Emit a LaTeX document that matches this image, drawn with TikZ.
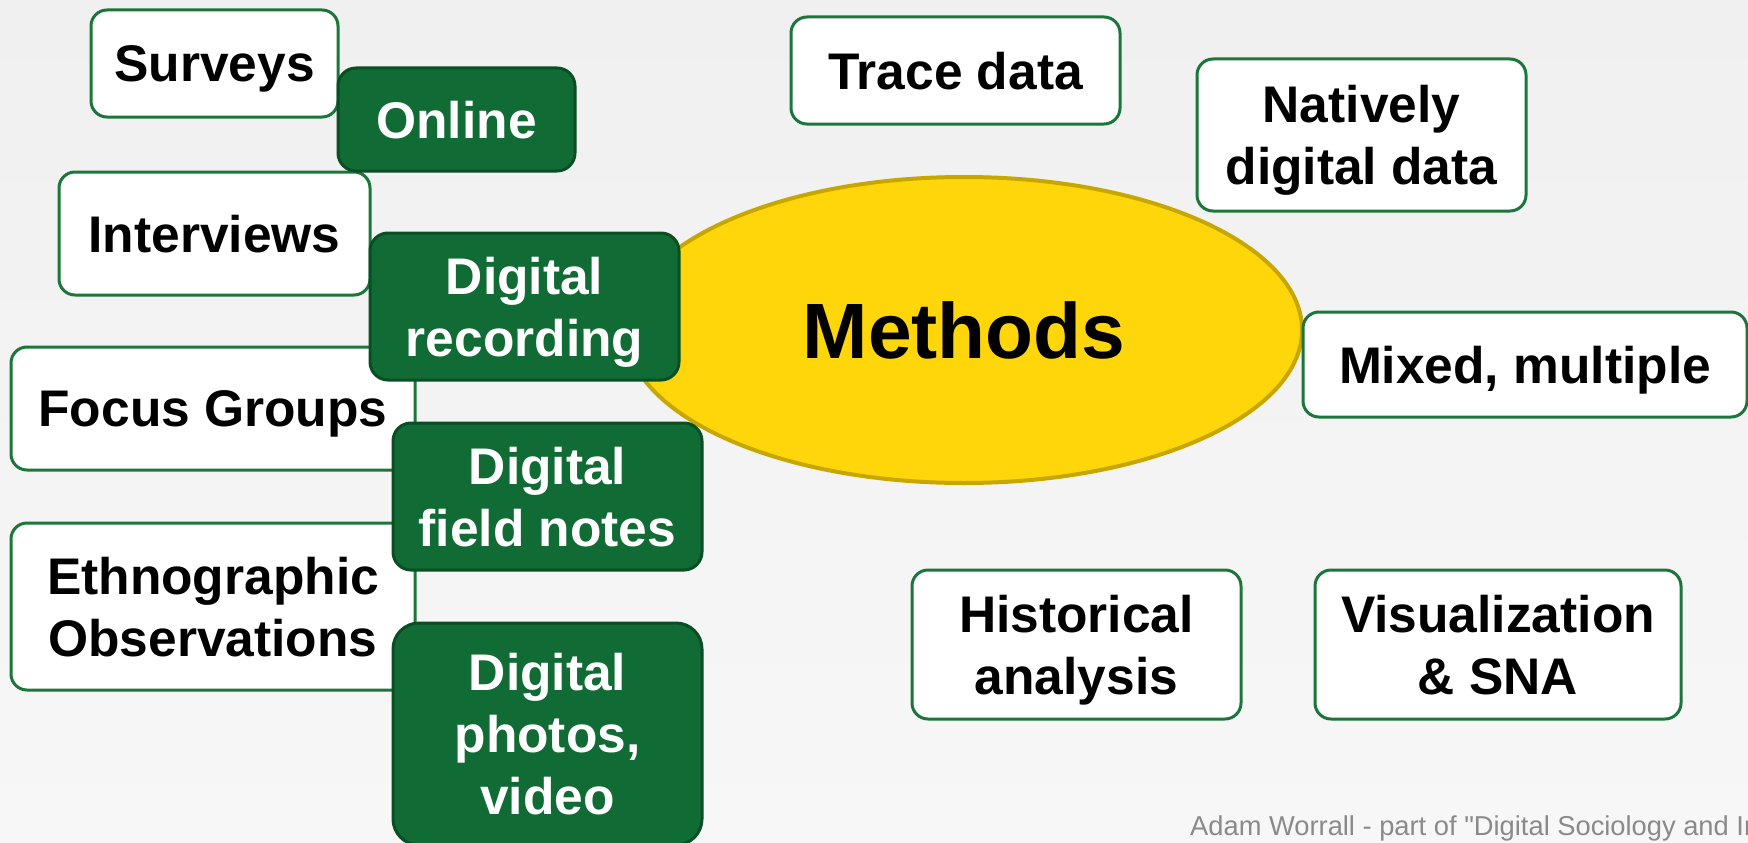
\documentclass[tikz,border=0pt]{standalone}
\usepackage{fontspec}
\setmainfont{Liberation Sans}
\newfontfamily\footfont{Liberation Sans}[Ligatures=TeXOff]
\usetikzlibrary{shapes.geometric}
\definecolor{bgtop}{RGB}{240,240,240}
\definecolor{bgbot}{RGB}{247,247,247}
\definecolor{dgreen}{RGB}{16,107,52}
\definecolor{gborder}{RGB}{10,78,36}
\definecolor{wborder}{RGB}{28,118,60}
\definecolor{yfill}{RGB}{255,214,10}
\definecolor{yborder}{RGB}{200,166,0}
\definecolor{footgray}{RGB}{138,138,138}
\newcommand\bxfont{\fontsize{51.5}{62}\selectfont\bfseries}
\newcommand\bigmfont{\fontsize{78.5}{90}\selectfont\bfseries}
\begin{document}
\begin{tikzpicture}[x=1pt,y=-1pt,
  wbox/.style={draw=wborder, line width=3pt, fill=white, rounded corners=16pt,
    align=center, font=\bxfont, inner sep=0pt, text=black, text depth=0pt},
  gbox/.style={draw=gborder, line width=3pt, fill=dgreen, rounded corners=18pt,
    align=center, font=\bxfont, inner sep=0pt, text=white, text depth=0pt},
  sz/.style 2 args={minimum width=#1pt, minimum height=#2pt}]
\useasboundingbox (0,0) rectangle (1748,843);
\clip (0,0) rectangle (1748,843);
\shade[top color=bgtop, bottom color=bgbot] (0,0) rectangle (1748,843);

% central ellipse
\node[ellipse, draw=yborder, line width=4pt, fill=yfill, sz={676}{306},
  font=\bigmfont, inner sep=0pt] (methods) at (964,330) {Methods};

% left white boxes
\node[wbox, sz={247}{107}] (surveys) at (214.5,63.5) {Surveys};
\node[wbox, sz={311}{123}] (interviews) at (214.5,233.5) {Interviews};
\node[wbox, sz={404}{123}] (focus) at (213,408.5) {Focus Groups};
\node[wbox, sz={404}{167}] (ethno) at (213,606.5) {Ethnographic\\Observations};

% green boxes
\node[gbox, sz={237}{103}] (online) at (456.5,119.5) {Online};
\node[gbox, sz={309}{147}] (digrec) at (524.5,306.5) {Digital\\recording};
\node[gbox, sz={309}{147}] (fieldnotes) at (547.5,496.5) {Digital\\field notes};
\node[gbox, sz={309}{222}, rounded corners=26pt] (photos) at (547.5,734) {Digital\\photos,\\video};

% right white boxes
\node[wbox, sz={329}{107}] (trace) at (955.5,70.5) {Trace data};
\node[wbox, sz={329}{152}] (natively) at (1361.5,135) {Natively\\digital data};
\node[wbox, sz={444}{105}] (mixed) at (1525,364.5) {Mixed, multiple};
\node[wbox, sz={329}{149}] (historical) at (1076.5,644.5) {Historical\\analysis};
\node[wbox, sz={366}{149}] (visual) at (1498,644.5) {Visualization\\\& SNA};

% footer
\node[anchor=base west, inner sep=0pt, text=footgray, font=\footfont\fontsize{27.3}{32}\selectfont]
  (footer) at (1190,835) {Adam Worrall - part of "Digital Sociology and In};
\end{tikzpicture}
\end{document}
